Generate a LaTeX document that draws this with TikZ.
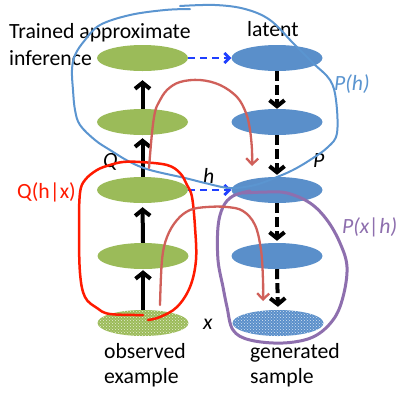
\documentclass[tikz,border=0pt]{standalone}
\usepackage{fontspec}
\setmainfont{Carlito}
\usetikzlibrary{shapes.geometric,arrows.meta,patterns}
\definecolor{lgreen}{HTML}{9BBB59}
\definecolor{lblue}{HTML}{5A8FCA}
\definecolor{loopblue}{HTML}{5B95D0}
\definecolor{dblue}{HTML}{1F3FFF}
\definecolor{lred}{HTML}{FF1A00}
\definecolor{lpurple}{HTML}{8E6FAE}
\definecolor{brred}{HTML}{D0605A}
\begin{document}
\begin{tikzpicture}[x=1pt,y=-1pt,
  ell/.style={ellipse,minimum width=91pt,minimum height=26pt,inner sep=0pt,draw=none},
  gell/.style={ell,fill=lgreen},
  bell/.style={ell,fill=lblue},
  gpat/.style={ell,preaction={fill=lgreen},pattern=crosshatch dots,pattern color=white!75!lgreen},
  bpat/.style={ell,preaction={fill=lblue},pattern=crosshatch dots,pattern color=white!75!lblue},
  uparr/.style={line width=4pt,-{Straight Barb[length=6pt,width=15pt]}},
  dnarr/.style={uparr,dash pattern=on 10pt off 4pt},
  harr/.style={draw=dblue,line width=2.7pt,dash pattern=on 7pt off 5pt,-{Straight Barb[length=5pt,width=10pt]}},
  lbl/.style={font=\fontsize{21.7}{26}\selectfont,inner sep=0pt},
  ilbl/.style={lbl,font=\fontsize{21.7}{26}\selectfont\itshape},
  hand/.style={line cap=round,line join=round},
  brarr/.style={hand,draw=brred,line width=2.3pt,-{Straight Barb[length=6pt,width=12pt]}},
]
\useasboundingbox[fill=white] (0,0) rectangle (415,400);

% green column
\node[gell] (g1) at (142.5,58) {};
\node[gell] (g2) at (142.5,122) {};
\node[gell] (g3) at (142.5,190) {};
\node[gell] (g4) at (143,256) {};
\node[gpat] (gx) at (143,323) {};
% blue column
\node[bell] (b1) at (277,58) {};
\node[bell] (b2) at (277,122) {};
\node[bell] (b3) at (277,190) {};
\node[bell] (b4) at (277,256) {};
\node[bpat] (bx) at (278,323) {};

% arrows
\draw[uparr,shorten >=9pt] (g2.north) -- (g1.south);
\draw[uparr,shorten >=3pt] (g3.north) -- (g2.south);
\draw[uparr,shorten >=4pt] (g4.north) -- (g3.south);
\draw[uparr,shorten >=1pt] (gx.north) -- (g4.south);
\draw[dnarr] (b1.south) -- (b2.north);
\draw[dnarr,shorten >=2pt] (b2.south) -- (b3.north);
\draw[dnarr,shorten >=2pt] (b3.south) -- (b4.north);
\draw[dnarr,shorten >=3pt] (b4.south) -- (bx.north);
\draw[harr] (g1.east) -- (b1.west);
\draw[harr] (g3.east) -- (b3.west);

% texts
\node[lbl,anchor=base west] (t1) at (9,38) {Trained approximate};
\node[lbl,anchor=base west] (t2) at (9,65) {inference};
\node[lbl,anchor=base west] (t3) at (247,36) {latent};
\node[lbl,anchor=base west] (t4) at (104,358) {observed};
\node[lbl,anchor=base west] (t5) at (104,383) {example};
\node[lbl,anchor=base west] (t6) at (250,358) {generated};
\node[lbl,anchor=base west] (t7) at (250,383) {sample};
\node[lbl,anchor=base west,text=lred] (t8) at (17,198) {Q(h|x)};
\node[ilbl,anchor=base west,text=lpurple] (t9) at (342,233) {P(x|h)};
\node[ilbl,anchor=base west,text=loopblue] (t10) at (334,90) {P(h)};
\node[ilbl,anchor=base west] (tq) at (103,167) {Q};
\node[ilbl,anchor=base west] (tp) at (313,167) {P};
\node[ilbl,anchor=base west] (th) at (203,183) {h};
\node[ilbl,anchor=base west] (tx) at (203,329) {x};

% hand-drawn loops
\draw[hand,draw=loopblue,line width=2pt] plot[smooth,tension=0.6] coordinates {
 (180,6) (215,5) (245,9) (270,20) (293,43) (313,63) (330,80) (336,100) (337,133)
 (328,147) (310,160) (293,170) (277,177) (255,185) (230,188) (205,183) (185,178)
 (150,170) (130,162) (110,150) (95,140) (80,125) (75,110) (73,90) (72,70) (75,55)
 (85,40) (100,25) (130,15) (165,10) (190,9)};
\draw[hand,draw=lred,line width=2.5pt] plot[smooth,tension=0.6] coordinates {
 (143,315) (110,314) (97,308) (85,297) (80,273) (79,227) (80,193) (85,180) (97,170)
 (110,165) (123,162) (140,162) (167,165) (180,173) (187,185) (192,197) (195,227)
 (196,260) (190,287) (177,307) (160,317) (148,320)};
\draw[hand,draw=lpurple,line width=3pt] plot[smooth,tension=0.6] coordinates {
 (243,193) (267,192) (287,193) (310,203) (327,220) (340,243) (347,267) (343,297)
 (333,320) (313,337) (283,343) (250,340) (233,330) (227,307) (223,287) (218,260)
 (218,227) (223,207) (233,196) (250,191)};

% red-brown arrows
\draw[brarr] plot[smooth,tension=0.6] coordinates {
 (149,168) (152,133) (155,112) (159,102) (167,90) (180,82) (200,80) (220,85)
 (237,97) (246,113) (250,130) (252,150) (252,166)};
\draw[brarr] plot[smooth,tension=0.6] coordinates {
 (160,305) (162,260) (167,237) (177,220) (190,210) (207,207) (227,207) (243,211)
 (255,225) (261,250) (263,280) (263,301)};
\end{tikzpicture}
\end{document}
